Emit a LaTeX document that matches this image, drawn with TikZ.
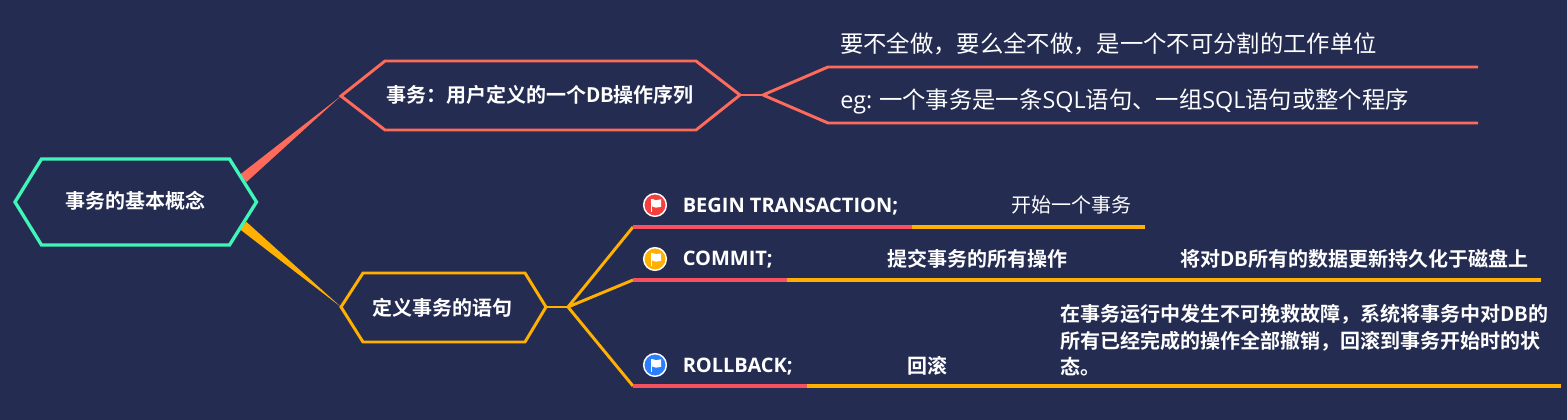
\documentclass[tikz,border=0pt]{standalone}
\usepackage{fontspec}
\setmainfont{Noto Sans CJK SC}[BoldFont=Noto Sans CJK SC Bold]
\newfontfamily\latinf{Open Sans}
\definecolor{bg}{HTML}{252C51}
\definecolor{teal}{HTML}{3FF5B8}
\definecolor{coral}{HTML}{FF6B5B}
\definecolor{amber}{HTML}{FFB000}
\definecolor{redline}{HTML}{F5515F}
\definecolor{flagred}{HTML}{F53F3F}
\definecolor{flagblue}{HTML}{2A7FFF}
\tikzset{
 hexroot/.style={draw=teal,line width=2.5pt,line join=miter,fill=bg},
 hexcoral/.style={draw=coral,line width=2.2pt,line join=miter,fill=bg},
 hexamber/.style={draw=amber,line width=2.2pt,line join=miter,fill=bg},
 wire/.style={line width=2.2pt,line join=miter},
 wireflat/.style={line width=2.5pt},
 labelb/.style={text=white,inner sep=0pt,font=\fontsize{15}{18}\selectfont\bfseries},
 labelr/.style={text=white,inner sep=0pt,font=\fontsize{15}{18}\selectfont},
 labelbig/.style={text=white,inner sep=0pt,font=\fontsize{17.5}{21}\selectfont},
 labeleng/.style={text=white,inner sep=0pt,font=\fontsize{15}{18}\selectfont\latinf\bfseries},
 badge/.style={circle,draw=white,line width=1.1pt,minimum size=17pt,inner sep=0pt},
}
\newcommand{\flagicon}[3]{%
 \node[badge,fill=#3] (#1) at (#2) {};
 \fill[white] ([shift={(-4.2,-6)}]#1.center) rectangle ([shift={(-2.6,7)}]#1.center);
 \fill[white] ([shift={(-2.8,-6)}]#1.center) -- ([shift={(1,-4.8)}]#1.center) -- ([shift={(6,-5.7)}]#1.center) -- ([shift={(6,1.8)}]#1.center) -- ([shift={(1,2.7)}]#1.center) -- ([shift={(-2.8,1.4)}]#1.center) -- cycle;
}
\begin{document}
\begin{tikzpicture}[x=0.75pt,y=-0.75pt]
\useasboundingbox[fill=bg] (0,0) rectangle (1567,420);
% anchor coordinates
\coordinate (rootNE) at (243,178.5);
\coordinate (rootSE) at (243,225.5);
\coordinate (n1W) at (341,96);
\coordinate (n1E) at (740,95);
\coordinate (n2W) at (341,307);
\coordinate (n2E) at (546,307);
\coordinate (j1) at (763,95);
\coordinate (j2) at (568,307);
\coordinate (a1) at (828,67);
\coordinate (a1e) at (1478,67);
\coordinate (a2) at (828,123);
\coordinate (a2e) at (1478,123);
\coordinate (b1) at (633,227);
\coordinate (b1m) at (912,227);
\coordinate (b1e) at (1145,227);
\coordinate (b2) at (633,280);
\coordinate (b2m) at (787,280);
\coordinate (b2e) at (1541,280);
\coordinate (b3) at (633,386);
\coordinate (b3m) at (807,386);
\coordinate (b3e) at (1561,386);
% tapered branches
\fill[coral] ([shift={(-3.5,-3.5)}]rootNE) -- ([shift={(3.5,3.5)}]rootNE) -- (n1W) -- cycle;
\fill[amber] ([shift={(3.5,-3.5)}]rootSE) -- ([shift={(-3.5,3.5)}]rootSE) -- (n2W) -- cycle;
% hexagons
\draw[hexroot] (15,202) -- (41.5,159) -- (229.5,159) -- (256.5,202) -- (229.5,245) -- (41.5,245) -- cycle;
\draw[hexcoral] (n1W) -- (385,61) -- (696,61) -- (n1E) -- (696,130) -- (385,130) -- cycle;
\draw[hexamber] (n2W) -- (363,273) -- (525,273) -- (n2E) -- (525,342) -- (363,342) -- cycle;
% coral connectors
\draw[wire,coral] (n1E) -- (j1);
\draw[wire,coral] (j1) -- (a1) -- (a1e);
\draw[wire,coral] (j1) -- (a2) -- (a2e);
% amber connectors
\draw[wire,amber] (n2E) -- (j2);
\draw[wire,amber] (j2) -- (b1);
\draw[wire,amber] (j2) -- (b2);
\draw[wire,amber] (j2) -- (b3);
\draw[wireflat,amber] (b1m) -- (b1e);
\draw[wireflat,amber] (b2m) -- (b2e);
\draw[wireflat,amber] (b3m) -- (b3e);
\draw[wireflat,redline] (b1) -- (b1m);
\draw[wireflat,redline] (b2) -- (b2m);
\draw[wireflat,redline] (b3) -- (b3m);
% labels
\node[labelb] (root) at (135,201) {事务的基本概念};
\node[labelb] (n1) at (540,94.5) {事务：用户定义的一个DB操作序列};
\node[labelb] (n2) at (442.5,307.5) {定义事务的语句};
\node[labelbig,anchor=west] (t1) at (840,43.5) {要不全做，要么全不做，是一个不可分割的工作单位};
\node[labelbig,anchor=west] (t2) at (840,101) {{\latinf eg:} 一个事务是一条{\latinf SQL}语句、一组{\latinf SQL}语句或整个程序};
\flagicon{f1}{655,205}{flagred}
\flagicon{f2}{655,259}{amber}
\flagicon{f3}{655,365}{flagblue}
\node[labeleng,anchor=west] (c1) at (682.5,206.5) {BEGIN TRANSACTION;};
\node[labeleng,anchor=west] (c2) at (682.5,260) {COMMIT;};
\node[labeleng,anchor=west] (c3) at (682.5,367) {ROLLBACK;};
\node[labelr,anchor=west] (d1) at (1011,205) {开始一个事务};
\node[labelb,anchor=west] (d2) at (887,258.5) {提交事务的所有操作};
\node[labelb,anchor=west] (d3) at (907,366) {回滚};
\node[labelb,anchor=west] (e2) at (1180,258.5) {将对DB所有的数据更新持久化于磁盘上};
\node[labelb,anchor=north west,align=left,font=\fontsize{15}{20}\selectfont\bfseries] (e3) at (1060,304) {在事务运行中发生不可挽救故障，系统将事务中对DB的\\所有已经完成的操作全部撤销，回滚到事务开始时的状\\态。};
\end{tikzpicture}
\end{document}
